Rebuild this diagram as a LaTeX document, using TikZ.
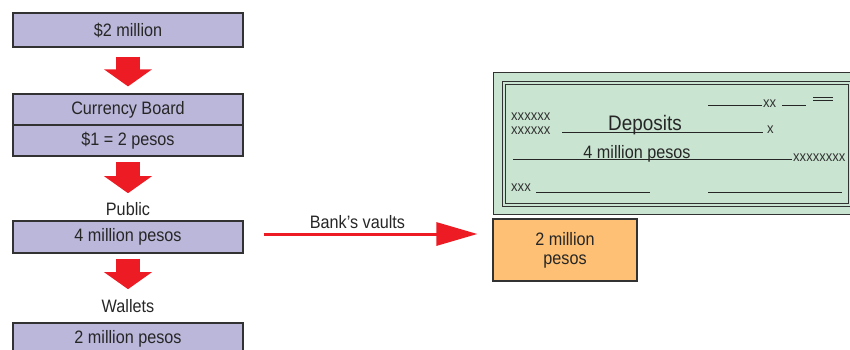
\documentclass[tikz,border=0pt]{standalone}
\usepackage{fontspec}
\setmainfont[FakeStretch=0.9]{Liberation Sans}
\usetikzlibrary{positioning,arrows.meta}
\definecolor{boxpurple}{RGB}{187,183,218}
\definecolor{chkgreen}{RGB}{201,228,208}
\definecolor{vaultorange}{RGB}{253,192,116}
\definecolor{arrred}{RGB}{237,28,36}
\definecolor{edgegray}{RGB}{50,50,50}
\newcommand{\bodyfont}{\fontsize{18}{19}\selectfont}
\newcommand{\smallxfont}{\fontsize{14.5}{15}\selectfont}
\tikzset{
  flowbox/.style={draw=edgegray,line width=1.2pt,fill=boxpurple,minimum width=230pt,
    inner sep=0pt,font=\bodyfont,text=black!85},
  lbl/.style={inner sep=0pt,font=\bodyfont,text=black!85},
  downarr/.style={arrred,line width=24pt,-{Triangle[length=17pt,width=47pt]}},
  sidearr/.style={arrred,line width=3pt,-{Triangle[length=41pt,width=23pt]}},
  vaultbox/.style={draw=edgegray,line width=1.2pt,fill=vaultorange,minimum width=144pt,
    minimum height=62pt,inner sep=0pt,align=center,font=\bodyfont,text=black!85},
  chkedge/.style={draw=edgegray,line width=1pt},
  chkline/.style={black!85,line width=1pt},
  xtxt/.style={inner sep=0pt,font=\smallxfont,text=black!80},
}
\begin{document}
\begin{tikzpicture}[x=1pt,y=-1pt]
  \useasboundingbox (0,0) rectangle (850,350);
  % left column
  \node[flowbox,minimum height=34pt] (dollars) at (128,30) {\$2 million};
  \node[flowbox,minimum height=31pt] (board) at (128,109.5) {Currency Board};
  \node[flowbox,minimum height=31pt] (rate) at (128,140.5) {\$1 = 2 pesos};
  \node[lbl] (public) at (128,209) {Public};
  \node[flowbox,minimum height=32pt] (pub) at (128,237) {4 million pesos};
  \node[lbl] (wallets) at (128,306) {Wallets};
  \node[flowbox,minimum height=32pt] (wal) at (128,339) {2 million pesos};
  \draw[downarr,shorten <=9pt,shorten >=7pt] (dollars) -- (board);
  \draw[downarr,shorten <=5.5pt,shorten >=9pt] (rate) -- (public);
  \draw[downarr,shorten <=5pt,shorten >=10pt] (pub) -- (wallets);
  % vault and arrow
  \node[vaultbox] (vault) at (565,250) {2 million\\pesos};
  \coordinate (hstart) at ([xshift=20pt,yshift=3pt]pub.east);
  \draw[sidearr,shorten >=15pt] (hstart) -- (hstart -| vault.west)
    node[lbl,above=4pt,pos=0.41] (vaults) {Bank’s vaults};
  % the check
  \draw[chkedge,fill=chkgreen] (493,73) rectangle (860,214);
  \draw[chkedge] (502,81.5) rectangle (853,206);
  \draw[chkedge] (505,84.5) rectangle (848,203);
  \draw[chkline] (708,106) -- (762,106);
  \node[xtxt,anchor=base west] (xa) at (763,107) {xx};
  \draw[chkline] (782,106) -- (806,106);
  \draw[chkline] (813,97.5) -- (833,97.5);
  \draw[chkline] (813,100.5) -- (833,100.5);
  \node[xtxt,anchor=base west] (xb) at (511,120.5) {xxxxxx};
  \node[xtxt,anchor=base west] (xc) at (511,134) {xxxxxx};
  \draw[chkline] (562,132) -- (763,132);
  \node[inner sep=0pt,anchor=base,font=\fontsize{21}{22}\selectfont,text=black!85] (dep) at (645,130) {Deposits};
  \node[xtxt,anchor=base west] (xd) at (767,133) {x};
  \draw[chkline] (513,159) -- (792,159);
  \node[lbl,anchor=base] (amt) at (637,158) {4 million pesos};
  \node[xtxt,anchor=base west] (xe) at (793,161) {xxxxxxxx};
  \node[xtxt,anchor=base west] (xf) at (511,191) {xxx};
  \draw[chkline] (536,192) -- (650,192);
  \draw[chkline] (708,192) -- (842,192);
\end{tikzpicture}
\end{document}
